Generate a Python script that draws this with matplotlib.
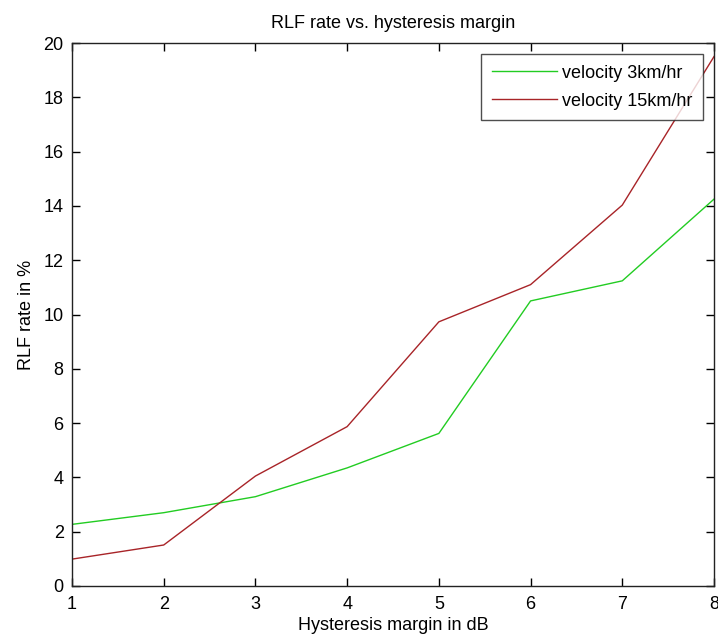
import numpy as np
import matplotlib
matplotlib.use("Agg")
import matplotlib.pyplot as plt

plt.rcParams["font.family"] = ["Liberation Sans", "DejaVu Sans"]

margin_db = [1, 2, 3, 4, 5, 6, 7, 8]
rlf_3kmh = [2.27, 2.70, 3.29, 4.35, 5.62, 10.5, 11.24, 14.25]
rlf_15kmh = [0.99, 1.51, 4.05, 5.87, 9.73, 11.1, 14.03, 19.5]

fs = 13

fig = plt.figure(figsize=(7.18, 6.44), dpi=100)
ax = fig.add_axes([72 / 718, (644 - 586) / 644, (714 - 72) / 718, (586 - 43) / 644])

ax.plot(margin_db, rlf_3kmh, color="#22cc22", lw=1.0, label="velocity 3km/hr")
ax.plot(margin_db, rlf_15kmh, color="#a82428", lw=1.0, label="velocity 15km/hr")

ax.set_xlim(1, 8)
ax.set_ylim(0, 20)
ax.set_xticks(range(1, 9))
ax.set_yticks(range(0, 21, 2))
ax.tick_params(direction="in", length=6, width=1, top=True, right=True,
               labelsize=fs)
ax.tick_params(axis="x", pad=7)
ax.tick_params(axis="y", pad=6)
for s in ax.spines.values():
    s.set_linewidth(1.0)
    s.set_color("#222222")

ax.set_title("RLF rate vs. hysteresis margin", fontsize=fs, pad=11)
ax.set_xlabel("Hysteresis margin in dB", fontsize=fs, labelpad=3)
ax.set_ylabel("RLF rate in %", fontsize=fs, labelpad=6)

leg = ax.legend(loc="upper right", fontsize=fs, frameon=True, fancybox=False,
                borderaxespad=0.6, handlelength=3.6, handletextpad=0.3,
                labelspacing=0.6, borderpad=0.6)
leg.get_frame().set_edgecolor("#222222")
leg.get_frame().set_linewidth(1.0)

fig.savefig("out.png", dpi=100)
